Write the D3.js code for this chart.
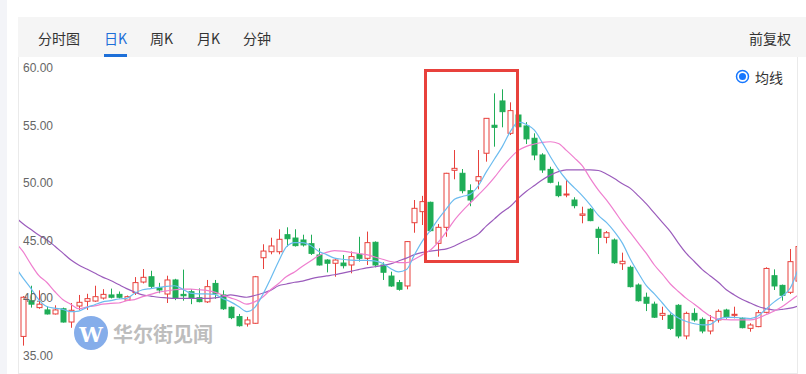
<!DOCTYPE html>
<html lang="zh">
<head>
  <meta charset="UTF-8">
  <style>
    body { margin: 0; background: #fff; }
    svg { display: block; }
    .tab { font-family: "Noto Sans CJK SC", sans-serif; font-size: 14px; fill: #333; }
    .ylab { font-family: "Liberation Sans", Arial, sans-serif; font-size: 12px; fill: #666; }
  </style>
</head>
<body>
  <script src="https://d3js.org/d3.v7.min.js"></script>
  <svg></svg>
  <script>

// daily candles (index 0 = first visible day, last one is clipped by the right edge)
const opens  = [36.7,39.8,39.2,39.0,38.65,39.1,37.95,39.34,39.75,39.77,40.03,40.3,40.35,39.85,40.5,41.42,41.88,40.93,40.38,41.6,
                40.35,40.58,40.06,39.7,41.3,40.3,39.23,38.42,37.78,37.84,43.53,44.05,44.05,45.53,45.24,45.07,44.75,43.77,43.33,43.05,
                43.07,42.9,43.83,43.48,44.87,42.9,41.94,41.37,41.08,46.57,47.53,48.34,44.78,46.17,51.12,50.86,49.35,50.2,52.6,55.03,
                57.14,54.33,55.92,54.97,53.9,52.45,51.2,49.76,48.98,48.54,47.21,47.74,46.0,45.3,45.07,43.01,42.7,41.16,40.1,39.5,
                38.53,38.53,39.4,36.74,38.7,38.18,37.17,38.13,38.99,38.53,38.27,37.4,37.55,38.79,41.97,41.13,40.53,41.5];
const closes = [40.1,39.5,39.5,38.65,39.0,37.95,38.97,39.66,39.98,40.15,40.35,40.1,40.1,40.15,41.37,41.83,41.05,40.73,41.6,40.0,
                40.23,40.0,39.72,41.02,40.4,39.1,38.33,37.63,38.13,41.88,44.11,44.55,45.13,45.18,44.58,44.64,43.91,42.9,43.05,43.33,
                42.84,43.63,43.48,44.84,42.9,42.27,41.08,40.79,44.93,47.82,48.4,45.88,46.17,50.86,51.29,49.35,48.54,50.57,55.63,54.85,
                56.21,56.3,54.9,53.85,52.45,51.15,50.08,48.92,49.06,48.05,47.33,46.75,45.3,45.7,43.1,43.22,41.02,39.8,39.58,38.37,
                38.7,37.4,36.74,38.7,38.13,37.17,38.07,38.88,38.36,38.62,37.46,37.69,38.76,42.6,41.08,40.27,43.19,44.5];
const highs  = [40.2,41.1,40.7,39.3,39.4,39.2,39.6,40.3,40.4,41.1,40.8,40.85,40.6,40.25,41.85,42.55,42.4,41.35,41.97,41.7,
                42.5,40.8,40.87,41.6,41.6,40.7,39.3,38.65,38.4,41.95,44.7,45.27,46.0,46.17,46.0,45.53,45.53,44.35,43.4,43.4,
                43.77,44.08,45.35,45.8,44.95,43.13,42.32,41.6,44.98,48.54,48.9,48.4,46.46,50.9,52.88,51.23,49.9,52.88,55.65,57.8,
                58.15,57.02,56.0,55.3,54.33,52.6,51.43,50.13,50.28,48.78,47.96,47.85,46.22,45.85,45.2,43.97,42.85,41.3,40.5,39.72,
                39.28,38.7,39.5,38.85,39.14,38.35,38.56,39.05,39.1,39.28,38.35,37.84,38.99,42.7,42.52,41.2,44.29,45.2];
const lows   = [35.9,39.2,39.1,38.6,38.6,37.9,37.45,39.0,39.0,39.7,39.9,40.0,40.0,39.8,40.3,41.3,40.9,40.45,39.6,39.85,
                39.8,39.5,39.66,39.6,39.97,39.0,38.2,37.55,37.55,37.8,42.55,43.83,43.83,44.5,44.5,44.5,43.77,42.85,42.26,41.88,
                42.6,42.18,43.2,42.9,42.7,41.6,41.0,40.67,40.79,45.7,46.37,45.8,43.62,45.35,50.34,49.12,48.0,49.47,51.87,53.17,
                54.85,54.18,54.8,53.4,52.0,50.9,49.99,48.78,48.78,47.82,46.52,46.7,43.85,44.78,43.0,42.47,40.95,39.72,38.9,38.3,
                38.13,37.26,36.54,36.45,37.98,36.97,36.88,37.9,38.24,38.27,37.4,37.11,37.5,38.7,40.73,39.8,40.38,41.0];

// moving averages, first value belongs to the day before index 0
const maStart = -1;
const ma5  = [42.8,41.8,40.9,39.9,39.3,39.15,39.05,38.85,38.9,39.2,39.45,39.7,39.8,39.95,40.0,40.45,40.75,40.85,40.95,41.05,41.1,
              40.8,40.45,40.4,40.4,40.35,40.0,39.7,39.3,38.85,39.2,40.3,41.7,43.2,44.5,44.85,44.85,44.6,44.1,43.8,43.5,
              43.4,43.33,43.3,43.3,43.25,43.05,42.6,42.3,42.5,43.8,45.0,45.9,46.9,47.8,48.6,48.85,49.05,49.8,51.0,52.1,
              53.2,54.5,55.3,55.1,54.6,53.5,52.3,51.2,50.3,49.6,48.9,48.1,47.2,46.6,45.8,44.8,43.4,42.2,41.1,40.4,
              39.6,38.8,38.3,38.0,37.8,37.7,37.75,38.2,38.35,38.35,38.3,38.25,38.5,39.1,39.7,40.2,40.9,42.6];
const ma10 = [44.9,44.1,43.0,42.0,41.4,40.6,39.9,39.5,39.1,39.25,39.35,39.5,39.57,39.6,39.8,39.9,40.15,40.35,40.55,40.65,40.75,
              40.8,40.8,40.75,40.7,40.55,40.3,40.05,39.8,39.5,39.7,40.1,40.75,41.3,41.9,42.3,42.8,43.25,43.7,44.0,44.15,
              44.1,44.0,43.9,43.8,43.6,43.4,43.2,43.1,43.1,43.4,43.8,44.2,44.9,45.8,46.8,47.6,48.3,49.0,49.7,50.5,
              51.4,52.2,52.85,53.2,53.4,53.55,53.6,53.45,52.85,52.2,51.5,50.4,49.4,48.55,47.6,46.6,45.7,44.8,43.9,42.9,
              42.1,41.25,40.6,40.0,39.5,38.95,38.45,38.2,38.15,38.13,38.13,38.13,38.3,38.6,38.9,39.3,39.8,40.3];
const ma20 = [47.1,46.5,46.0,45.5,45.1,44.55,43.95,43.35,42.9,42.55,42.2,41.85,41.55,41.2,40.85,40.55,40.3,40.2,40.1,40.05,40.0,
              40.0,40.0,40.0,40.0,40.05,40.15,40.3,40.2,40.1,40.25,40.45,40.7,41.1,41.25,41.4,41.5,41.7,41.85,41.95,42.05,
              42.2,42.35,42.5,42.65,42.75,42.85,43.0,43.25,43.5,43.8,44.0,44.1,44.2,44.3,44.55,44.9,45.2,45.6,46.3,46.9,
              47.5,48.0,48.7,49.3,49.8,50.3,50.7,51.0,51.15,51.15,51.15,51.15,51.1,50.8,50.4,49.95,49.55,48.9,48.2,47.4,
              46.6,45.8,44.8,43.9,43.2,42.5,41.95,41.4,40.75,40.3,39.9,39.6,39.3,39.1,38.99,39.05,39.15,39.35];

const yTicks = [35, 40, 45, 50, 55, 60];
const tabs = ["分时图", "日K", "周K", "月K", "分钟"];
const tabX = [38, 104, 150, 197, 243];

const w = 806;
const h = 374;
const up = "#e8413c";
const down = "#1fad57";

const svg = d3.select("svg")
              .attr("width", w)
              .attr("height", h);

// page + header
svg.append("rect").attr("x", 0).attr("y", 0).attr("width", 7).attr("height", h).attr("fill", "#f3f4f8");
svg.append("rect").attr("x", 18).attr("y", 17).attr("width", w - 18).attr("height", 40).attr("fill", "#f5f5f5");

svg.selectAll(".tab")
   .data(tabs)
   .enter()
   .append("text")
   .attr("class", "tab")
   .attr("x", (d, i) => tabX[i])
   .attr("y", 38)
   .attr("dominant-baseline", "central")
   .style("fill", (d, i) => i === 1 ? "#1d6fd8" : "#333")
   .text(d => d);

svg.append("rect").attr("x", 104).attr("y", 54).attr("width", 23).attr("height", 3).attr("fill", "#1d6fd8");

svg.append("text")
   .attr("class", "tab")
   .attr("x", 791)
   .attr("y", 38)
   .attr("text-anchor", "end")
   .attr("dominant-baseline", "central")
   .text("前复权");

// chart panel borders
svg.append("line").attr("x1", 18.5).attr("x2", 18.5).attr("y1", 57).attr("y2", 373).attr("stroke", "#eaeaea");
svg.append("line").attr("x1", 797.5).attr("x2", 797.5).attr("y1", 57).attr("y2", 373).attr("stroke", "#eaeaea");
svg.append("line").attr("x1", 18).attr("x2", 798).attr("y1", 373.5).attr("y2", 373.5).attr("stroke", "#eaeaea");

//scales
const xScale = d3.scaleLinear()
                 .domain([0, 96])
                 .range([22.7, 790.3]);

const yScale = d3.scaleLinear()
                 .domain([35, 60])
                 .range([356, 68]);

svg.append("clipPath").attr("id", "plot")
   .append("rect").attr("x", 19).attr("y", 57).attr("width", 778).attr("height", 316);

const plot = svg.append("g").attr("clip-path", "url(#plot)");

// watermark
const wm = plot.append("g").attr("opacity", 0.75);
wm.append("circle").attr("cx", 91).attr("cy", 333).attr("r", 17).attr("fill", "#5d92e3");
wm.append("text")
  .attr("x", 91).attr("y", 334)
  .attr("text-anchor", "middle")
  .attr("dominant-baseline", "central")
  .style("font-family", "'DejaVu Serif', serif")
  .style("font-size", "21px")
  .style("font-weight", "bold")
  .attr("fill", "#fff")
  .text("W");
wm.append("text")
  .attr("x", 113).attr("y", 333)
  .attr("dominant-baseline", "central")
  .style("font-family", "'Noto Sans CJK SC', sans-serif")
  .style("font-size", "20px")
  .style("font-weight", "bold")
  .attr("fill", "#a8a8a8")
  .text("华尔街见闻");

// candles
const candles = d3.range(opens.length).map(i => ({
  i: i, o: opens[i], c: closes[i], hi: highs[i], lo: lows[i]
}));

const cg = plot.selectAll(".candle")
               .data(candles)
               .enter()
               .append("g")
               .attr("class", "candle");

const cx = d => Math.round(xScale(d.i)) + 0.5;

cg.append("line")
  .attr("x1", cx).attr("x2", cx)
  .attr("y1", d => yScale(d.hi))
  .attr("y2", d => yScale(d.lo))
  .attr("stroke", d => d.c >= d.o ? up : down)
  .attr("stroke-width", 1);

cg.append("rect")
  .attr("x", d => cx(d) - 2.5)
  .attr("width", 5)
  .attr("y", d => yScale(Math.max(d.o, d.c)))
  .attr("height", d => Math.max(1, Math.abs(yScale(d.o) - yScale(d.c))))
  .attr("fill", d => d.c >= d.o ? "#fff" : down)
  .attr("stroke", d => d.c >= d.o ? up : down)
  .attr("stroke-width", 1);

// moving averages
const maLine = d3.line()
                 .x((d, i) => xScale(i + maStart))
                 .y(d => yScale(d))
                 .curve(d3.curveMonotoneX);

[[ma20, "#9b5cbc"], [ma10, "#ef7fcf"], [ma5, "#6cbcef"]].forEach(([vals, col]) => {
  plot.append("path")
      .attr("d", maLine(vals))
      .attr("fill", "none")
      .attr("stroke", col)
      .attr("stroke-width", 1.2);
});

// y labels
svg.selectAll(".ylab")
   .data(yTicks)
   .enter()
   .append("text")
   .attr("class", "ylab")
   .attr("x", 23)
   .attr("y", d => yScale(d))
   .attr("dominant-baseline", "central")
   .text(d => d.toFixed(2));

// legend
svg.append("circle").attr("cx", 742.5).attr("cy", 76.5).attr("r", 6).attr("fill", "#fff")
   .attr("stroke", "#1677ff").attr("stroke-width", 1.5);
svg.append("circle").attr("cx", 742.5).attr("cy", 76.5).attr("r", 3.5).attr("fill", "#1677ff");
svg.append("text").attr("class", "tab").attr("x", 755).attr("y", 76.5)
   .attr("dominant-baseline", "central").text("均线");

// highlight box
svg.append("rect")
   .attr("x", 425.5).attr("y", 70.5)
   .attr("width", 92).attr("height", 191)
   .attr("fill", "none")
   .attr("stroke", "#e8413c")
   .attr("stroke-width", 3);

  </script>
</body>
</html>
